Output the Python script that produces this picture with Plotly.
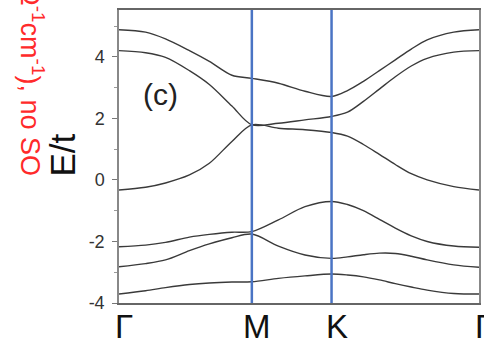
import plotly.graph_objects as go

# High-symmetry path Γ–M–K–Γ (path length in units of |ΓM|)
k_labels = ["Γ", "M", "K", "Γ"]
k_ticks = [0.0, 1.0, 1.6, 2.71]

# Sample points along the path
k = [0.0, 0.2, 0.35, 0.53, 0.68, 0.85, 1.0, 1.2, 1.4, 1.6,
     1.72, 1.84, 1.96, 2.08, 2.2, 2.32, 2.52, 2.71]

# Band energies E/t, highest to lowest
band1 = [4.88, 4.80, 4.58, 4.20, 3.85, 3.40, 3.30, 3.14, 2.88, 2.71,
         2.90, 3.20, 3.55, 3.90, 4.25, 4.55, 4.80, 4.88]
band2 = [4.20, 4.13, 3.98, 3.55, 3.10, 2.40, 1.79, 1.84, 1.95, 2.06,
         2.20, 2.55, 2.95, 3.35, 3.70, 3.95, 4.15, 4.20]
band3 = [-0.33, -0.24, -0.10, 0.16, 0.54, 1.25, 1.79, 1.68, 1.63, 1.54,
         1.42, 1.15, 0.83, 0.50, 0.20, 0.00, -0.22, -0.33]
band4 = [-2.17, -2.12, -2.03, -1.86, -1.77, -1.70, -1.68, -1.30, -0.87, -0.70,
         -0.80, -1.00, -1.28, -1.57, -1.82, -2.00, -2.15, -2.19]
band5 = [-2.82, -2.72, -2.60, -2.30, -2.08, -1.88, -1.76, -2.15, -2.44, -2.55,
         -2.50, -2.43, -2.38, -2.39, -2.48, -2.60, -2.76, -2.84]
band6 = [-3.71, -3.60, -3.50, -3.40, -3.35, -3.32, -3.31, -3.20, -3.12, -3.06,
         -3.09, -3.15, -3.25, -3.37, -3.48, -3.58, -3.69, -3.71]

bands = [band1, band2, band3, band4, band5, band6]

y_ticks = [-4, -2, 0, 2, 4]
y_ticktext = ["-4", "-2", "0", "2", "4"]

FONT = "Liberation Sans, Arial, sans-serif"

fig = go.Figure()
for b in bands:
    fig.add_trace(go.Scatter(
        x=k, y=b, mode="lines",
        line=dict(color="#3a3a3a", width=1.4, shape="spline", smoothing=0.9),
        showlegend=False, hoverinfo="skip",
    ))

# Vertical guide lines at the interior high-symmetry points
for kv in k_ticks[1:3]:
    fig.add_shape(type="line", xref="x", yref="paper", x0=kv, x1=kv, y0=0, y1=1,
                  line=dict(color="#4a74c4", width=2.5), layer="above")

# k-point labels below the axis
for lab, kv in zip(k_labels, k_ticks):
    fig.add_annotation(x=kv, y=-0.08, xref="x", yref="paper", text=lab,
                       showarrow=False, xshift=5,
                       xanchor="center", yanchor="middle",
                       font=dict(family=FONT, size=33, color="#111111"))

# Panel label
fig.add_annotation(x=0.116, y=0.71, xref="paper", yref="paper", text="(c)",
                   showarrow=False, xanchor="center", yanchor="middle",
                   font=dict(family=FONT, size=30, color="#222222"))

# Axis title
fig.add_annotation(x=-0.157, y=0.505, xref="paper", yref="paper", text="E/t",
                   textangle=-90, showarrow=False,
                   xanchor="center", yanchor="middle",
                   font=dict(family=FONT, size=35, color="#111111"))

# Neighbouring panel's axis title, partly cut off at the top edge
fig.add_annotation(x=-0.246, y=0.4266, xref="paper", yref="paper",
                   xanchor="center", yanchor="bottom",
                   text="σ<sub>xy</sub> (Ω<sup>-1</sup>cm<sup>-1</sup>), no SO",
                   textangle=90, showarrow=False,
                   font=dict(family=FONT, size=27, color="#ff2a2a"))

fig.update_layout(
    width=484, height=354,
    margin=dict(l=119, r=3, t=10, b=51),
    paper_bgcolor="white", plot_bgcolor="white",
    xaxis=dict(range=[0, 2.71], showticklabels=False, ticks="",
               showgrid=False, zeroline=False,
               showline=True, linecolor="#666666", linewidth=2, mirror=True),
    yaxis=dict(range=[-4, 5.52], tickvals=y_ticks, ticktext=y_ticktext,
               ticks="outside", ticklen=5, tickwidth=1.2, tickcolor="#777777",
               minor=dict(dtick=1, ticks="outside", ticklen=3, tickcolor="#999999"),
               showgrid=False, zeroline=False,
               showline=True, linecolor="#888888", linewidth=1.5, mirror=True,
               tickfont=dict(family=FONT, size=18, color="#333333"),
               ticklabelstandoff=4),
)

fig.write_html("out.html")
